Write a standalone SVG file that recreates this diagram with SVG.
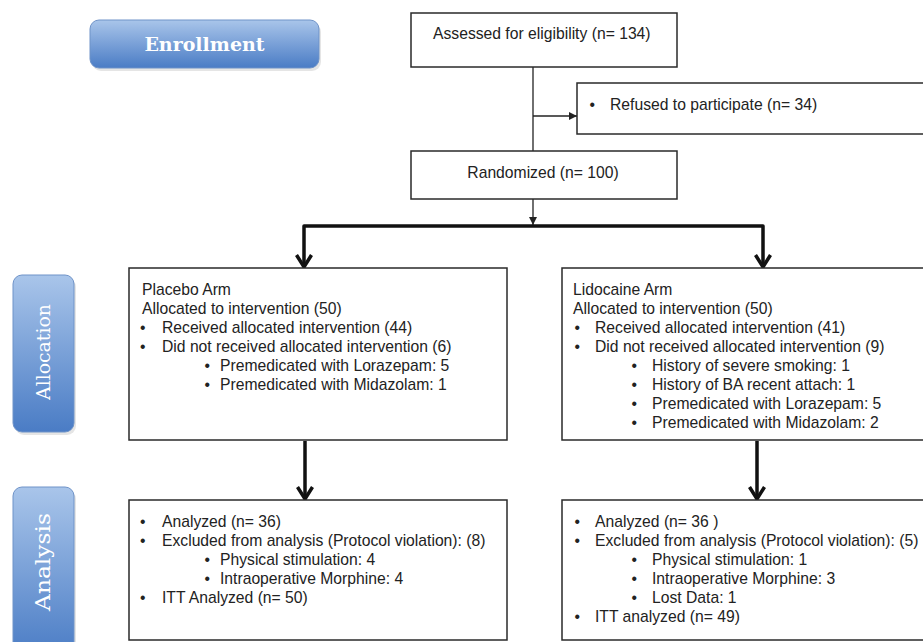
<svg xmlns="http://www.w3.org/2000/svg" width="923" height="642" viewBox="0 0 923 642">
<defs>
<style>
.box{fill:#fff;stroke:#2a2a2a;stroke-width:1.5}
.t{font-family:"Liberation Sans",Arial,sans-serif;font-size:15.7px;fill:#222}
.c{text-anchor:middle}
.thin{stroke:#222;stroke-width:1.3;fill:none}
.thick{stroke:#111;stroke-width:3.5;fill:none;stroke-linejoin:round}
.blue{fill:url(#bg);stroke:#6f93c8;stroke-width:1}
.shadow{fill:#000;opacity:0.1}
.lab{font-family:"DejaVu Serif","Liberation Serif",serif;fill:#fff;text-anchor:middle}
</style>
<linearGradient id="bg" x1="0" y1="0" x2="0" y2="1">
<stop offset="0" stop-color="#a9c5ea"/>
<stop offset="1" stop-color="#4a7cc5"/>
</linearGradient>
<marker id="tri" viewBox="0 0 10 10" refX="10" refY="5" markerWidth="9" markerHeight="8" markerUnits="userSpaceOnUse" orient="auto">
<path d="M0,0 L10,5 L0,10 z" fill="#222"/>
</marker>
<marker id="chev" viewBox="0 0 16 18" refX="13" refY="9" markerWidth="16" markerHeight="18" markerUnits="userSpaceOnUse" orient="auto" overflow="visible">
<path d="M1,1.5 L13,9 L1,16.5" fill="none" stroke="#111" stroke-width="3.5"/>
</marker>
</defs>
<rect width="923" height="642" fill="#fff"/>

<g id="enrollment">
<rect class="shadow" x="92" y="23" width="229" height="48" rx="9"/>
<rect class="blue" x="90" y="20" width="229" height="48" rx="9"/>
<text class="lab" x="204.5" y="51" font-size="19" font-weight="bold">Enrollment</text>
</g>
<g id="allocation">
<rect class="shadow" x="15" y="278" width="61" height="157" rx="9"/>
<rect class="blue" x="13" y="275" width="61" height="157" rx="9"/>
<text class="lab" transform="translate(50,352) rotate(-90)" font-size="19" textLength="96" lengthAdjust="spacingAndGlyphs">Allocation</text>
</g>
<g id="analysis">
<rect class="shadow" x="15" y="490" width="61" height="170" rx="9"/>
<rect class="blue" x="13" y="487" width="61" height="170" rx="9"/>
<text class="lab" transform="translate(50,562) rotate(-90)" font-size="20" textLength="98" lengthAdjust="spacingAndGlyphs">Analysis</text>
</g>

<g id="connectors">
<path class="thin" d="M533,67 L533,151"/>
<path class="thin" d="M533,116 L577,116" marker-end="url(#tri)"/>
<path class="thin" d="M533,199 L533,225" marker-end="url(#tri)"/>
<path class="thick" d="M533,226 L304,226 L304,267" marker-end="url(#chev)"/>
<path class="thick" d="M533,226 L763,226 L763,267" marker-end="url(#chev)"/>
<path class="thick" d="M305,441 L305,499" marker-end="url(#chev)"/>
<path class="thick" d="M757,441 L757,499" marker-end="url(#chev)"/>
</g>

<g id="assessed">
<rect class="box" x="411" y="13" width="266" height="54"/>
<text class="t" x="433" y="39">Assessed for eligibility (n= 134)</text>
</g>
<g id="refused">
<rect class="box" x="577" y="83" width="360" height="51"/>
<text class="t" x="589.5" y="110">•</text>
<text class="t" x="610" y="110">Refused to participate (n= 34)</text>
</g>
<g id="randomized">
<rect class="box" x="411" y="151" width="266" height="48"/>
<text class="t c" x="543" y="178">Randomized (n= 100)</text>
</g>

<g id="placebo-allocation">
<rect class="box" x="129" y="268" width="378" height="172"/>
<text class="t" x="142" y="295">Placebo Arm</text>
<text class="t" x="142" y="314">Allocated to intervention (50)</text>
<text class="t" x="140" y="333">•</text>
<text class="t" x="162" y="333">Received allocated intervention (44)</text>
<text class="t" x="140" y="352">•</text>
<text class="t" x="162" y="352">Did not received allocated intervention (6)</text>
<text class="t" x="204.5" y="371">•</text>
<text class="t" x="220" y="371">Premedicated with Lorazepam: 5</text>
<text class="t" x="204.5" y="390">•</text>
<text class="t" x="220" y="390">Premedicated with Midazolam: 1</text>
</g>

<g id="lidocaine-allocation">
<rect class="box" x="562" y="268" width="370" height="172"/>
<text class="t" x="573" y="295">Lidocaine Arm</text>
<text class="t" x="573" y="314">Allocated to intervention (50)</text>
<text class="t" x="574.5" y="333">•</text>
<text class="t" x="595" y="333">Received allocated intervention (41)</text>
<text class="t" x="574.5" y="352">•</text>
<text class="t" x="595" y="352">Did not received allocated intervention (9)</text>
<text class="t" x="631.5" y="371">•</text>
<text class="t" x="652" y="371">History of severe smoking: 1</text>
<text class="t" x="631.5" y="390">•</text>
<text class="t" x="652" y="390">History of BA recent attach: 1</text>
<text class="t" x="631.5" y="409">•</text>
<text class="t" x="652" y="409">Premedicated with Lorazepam: 5</text>
<text class="t" x="631.5" y="428">•</text>
<text class="t" x="652" y="428">Premedicated with Midazolam: 2</text>
</g>

<g id="placebo-analysis">
<rect class="box" x="129" y="500" width="378" height="140"/>
<text class="t" x="140" y="527">•</text>
<text class="t" x="162" y="527">Analyzed (n= 36)</text>
<text class="t" x="140" y="546">•</text>
<text class="t" x="162" y="546">Excluded from analysis (Protocol violation): (8)</text>
<text class="t" x="204.5" y="565">•</text>
<text class="t" x="220" y="565">Physical stimulation: 4</text>
<text class="t" x="204.5" y="584">•</text>
<text class="t" x="220" y="584">Intraoperative Morphine: 4</text>
<text class="t" x="140" y="603">•</text>
<text class="t" x="162" y="603">ITT Analyzed (n= 50)</text>
</g>

<g id="lidocaine-analysis">
<rect class="box" x="562" y="500" width="370" height="140"/>
<text class="t" x="574.5" y="527">•</text>
<text class="t" x="595" y="527">Analyzed (n= 36 )</text>
<text class="t" x="574.5" y="546">•</text>
<text class="t" x="595" y="546">Excluded from analysis (Protocol violation): (5)</text>
<text class="t" x="631.5" y="565">•</text>
<text class="t" x="652" y="565">Physical stimulation: 1</text>
<text class="t" x="631.5" y="584">•</text>
<text class="t" x="652" y="584">Intraoperative Morphine: 3</text>
<text class="t" x="631.5" y="603">•</text>
<text class="t" x="652" y="603">Lost Data: 1</text>
<text class="t" x="574.5" y="622">•</text>
<text class="t" x="595" y="622">ITT analyzed (n= 49)</text>
</g>
</svg>
